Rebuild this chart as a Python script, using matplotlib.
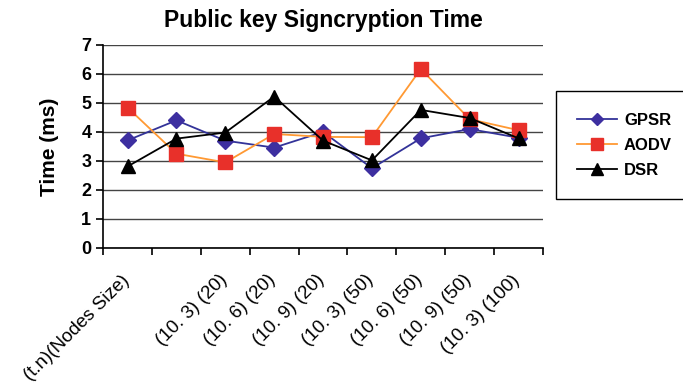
import matplotlib.pyplot as plt
from matplotlib.transforms import ScaledTranslation

plt.rcParams['font.family'] = ['Liberation Sans', 'DejaVu Sans']

categories = ["(t.n)(Nodes Size)", "", "(10. 3) (20)", "(10. 6) (20)", "(10. 9) (20)",
              "(10. 3) (50)", "(10. 6) (50)", "(10. 9) (50)", "(10. 3) (100)"]
gpsr = [3.71, 4.40, 3.70, 3.46, 4.00, 2.75, 3.78, 4.10, 3.80]
aodv = [4.84, 3.25, 2.95, 3.93, 3.83, 3.82, 6.17, 4.44, 4.06]
dsr = [2.81, 3.77, 3.98, 5.22, 3.70, 3.02, 4.76, 4.48, 3.78]

fig = plt.figure(figsize=(6.83, 3.89), dpi=100)
ax = fig.add_axes([0.151, 0.3625, 0.644, 0.522])

x = list(range(len(categories)))
ax.plot(x, gpsr, color='#333399', marker='D', markersize=8, markerfacecolor='#3d2fa0',
        markeredgecolor='#3d2fa0', linewidth=1.3, label='GPSR', zorder=3)
ax.plot(x, aodv, color='#ff9933', marker='s', markersize=10, markerfacecolor='#e8302a',
        markeredgecolor='#e8302a', linewidth=1.3, label='AODV', zorder=3)
ax.plot(x, dsr, color='black', marker='^', markersize=10, markerfacecolor='black',
        linewidth=1.3, label='DSR', zorder=4)

ax.set_xlim(-0.5, len(categories) - 0.5)
ax.set_ylim(0, 7)
ax.set_yticks(range(0, 8))
ax.yaxis.grid(True, color='#444444', linewidth=1)
ax.set_axisbelow(True)
for s in ['top', 'right']:
    ax.spines[s].set_visible(False)
ax.spines['left'].set_linewidth(1.2)
ax.spines['bottom'].set_linewidth(1.2)

ax.set_xticks([i - 0.5 for i in range(len(categories) + 1)])
ax.set_xticklabels([])
ax.set_xticks(x, minor=True)
ax.set_xticklabels(categories, minor=True, rotation=45, ha='right', va='top',
                   rotation_mode='anchor', fontsize=13.5)
ax.tick_params(axis='x', which='minor', length=0, pad=17)
ax.tick_params(axis='x', which='major', length=5, width=1.2, direction='out')
ax.tick_params(axis='y', length=5, width=1.2, direction='out', labelsize=13)
shift = ScaledTranslation(-7 / 100, 0, fig.dpi_scale_trans)
for t in ax.get_xticklabels(minor=True):
    t.set_transform(t.get_transform() + shift)
for t in ax.get_yticklabels():
    t.set_fontweight('bold')

ax.set_ylabel('Time (ms)', fontsize=15, fontweight='bold', labelpad=16)
ax.set_title('Public key Signcryption Time', fontsize=16.5, fontweight='bold', pad=13)

leg = ax.legend(loc='center left', bbox_to_anchor=(1.01, 0.507), fancybox=False,
                edgecolor='black', framealpha=1, prop={'weight': 'bold', 'size': 12},
                handlelength=2.4, borderpad=1.3, labelspacing=0.6, markerscale=0.8,
                handletextpad=0.4)
leg.get_frame().set_linewidth(1)

fig.savefig('out.png', dpi=100)
